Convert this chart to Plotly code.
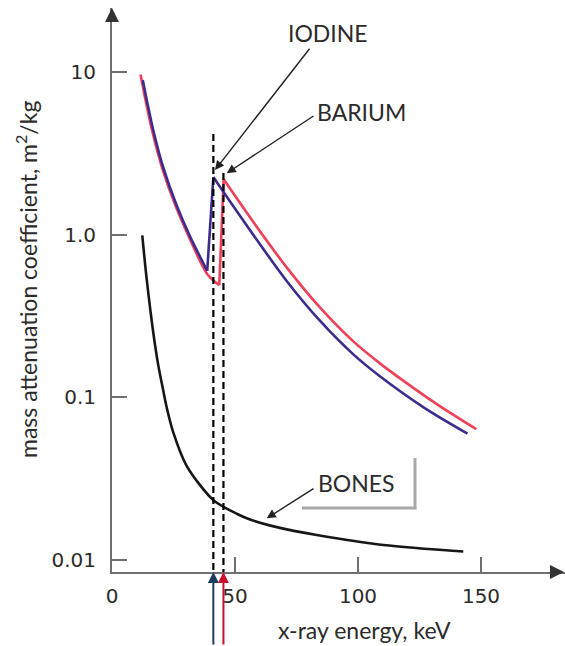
import plotly.graph_objects as go

# ---------------- data ----------------
iodine_kev = [12.5, 14.1, 16.8, 20.9, 26.3, 31.7, 38.7, 41.2, 45.2, 57.4, 71.0, 84.6, 98.1, 108.9, 126.8, 144.5]
iodine_mu  = [8.91, 6.76, 4.37, 2.57, 1.51, 0.977, 0.60, 2.26, 1.84, 1.0, 0.52, 0.295, 0.184, 0.135, 0.0867, 0.060]
iodine_edge_index = 6   # last point before the K-edge jump

barium_kev = [11.6, 13.6, 16.3, 20.4, 25.8, 31.2, 38.7, 43.6, 45.4, 57.4, 71.0, 84.6, 98.1, 108.9, 117.1, 132.5, 148.1]
barium_mu  = [9.64, 6.76, 4.37, 2.57, 1.51, 0.977, 0.574, 0.489, 2.19, 1.2, 0.63, 0.356, 0.221, 0.162, 0.131, 0.090, 0.0638]
barium_edge_index = 7

bones_kev = [12.3, 14.1, 16.8, 18.8, 20.9, 22.2, 24.9, 30.4, 41.2, 50.7, 56.1, 68.3, 83.2, 110.3, 142.8]
bones_mu  = [0.99, 0.533, 0.249, 0.158, 0.109, 0.0874, 0.061, 0.0379, 0.0234, 0.0193, 0.0178, 0.0158, 0.0143, 0.0124, 0.0113]

k_edges_kev = [41.2, 45.3]          # iodine, barium (dashed guides)
k_edge_tops = [4.15, 2.39]

x_tick_vals = [0, 50, 100, 150]
x_tick_text = ["0", "50", "100", "150"]
y_tick_vals = [0.01, 0.1, 1, 10]
y_tick_text = ["0.01", "0.1", "1.0", "10"]

# ---------------- style ----------------
W, H = 565, 646
ML, MR, MT, MB = 112, 0, 8, 74
PW, PH = W - ML - MR, H - MT - MB
X_RANGE = [0, PW / 2.46]
Y_RANGE = [-2.0725, 1.393]
Y_BOTTOM = 10 ** Y_RANGE[0]

AXIS_GREY = "#6f6f6f"
PURPLE = "#3d2c8d"
RED = "#ef4059"
TXT = "#2b2b2b"
LABEL_FONT = "Lato"


def px(x):
    return (x - ML) / PW


def py(y):
    return (H - MB - y) / PH


fig = go.Figure()


def add_edge_curve(kev, mu, k, color):
    pieces = [(kev[:k + 1], mu[:k + 1], "spline"),
              (kev[k:k + 2], mu[k:k + 2], "linear"),
              (kev[k + 1:], mu[k + 1:], "spline")]
    for xs, ys, shape in pieces:
        fig.add_trace(go.Scatter(x=xs, y=ys, mode="lines",
                                 line=dict(color=color, width=2.6, shape=shape, smoothing=0.9),
                                 showlegend=False, hoverinfo="skip"))


add_edge_curve(barium_kev, barium_mu, barium_edge_index, RED)
add_edge_curve(iodine_kev, iodine_mu, iodine_edge_index, PURPLE)

fig.add_trace(go.Scatter(x=bones_kev, y=bones_mu, mode="lines",
                         line=dict(color="#161616", width=2.6, shape="spline", smoothing=0.8),
                         showlegend=False, hoverinfo="skip"))

for xe, top in zip(k_edges_kev, k_edge_tops):
    fig.add_trace(go.Scatter(x=[xe, xe], y=[top, Y_BOTTOM], mode="lines",
                             line=dict(color="black", width=2.2, dash="7px,4px"),
                             showlegend=False, hoverinfo="skip", cliponaxis=False))

annotations = []
# axis arrowheads
annotations.append(dict(x=1, y=0, xref="paper", yref="paper", ax=-14, ay=0, text="",
                        showarrow=True, arrowhead=2, arrowsize=1.4, arrowwidth=2,
                        arrowcolor="#333333", standoff=0))
annotations.append(dict(x=0, y=1, xref="paper", yref="paper", ax=0, ay=14, text="",
                        showarrow=True, arrowhead=2, arrowsize=1.4, arrowwidth=2,
                        arrowcolor="#333333", standoff=0))
# coloured K-edge arrows below the axis
for xe, col in zip(k_edges_kev, ["#1f3a63", "#c8102e"]):
    annotations.append(dict(x=xe, y=0, xref="x", yref="paper", ax=0, ay=MB, text="",
                            showarrow=True, arrowhead=2, arrowsize=1.1, arrowwidth=2,
                            arrowcolor=col, standoff=0))
# label arrows
for tip, tail in [((215, 170), (310.7, 47.3)), ((226.7, 173.3), (315, 115)), ((266.7, 518.3), (315, 487.7))]:
    annotations.append(dict(x=px(tip[0]), y=py(tip[1]), xref="paper", yref="paper",
                            ax=tail[0] - tip[0], ay=tail[1] - tip[1], text="",
                            showarrow=True, arrowhead=2, arrowsize=1.3, arrowwidth=1.4,
                            arrowcolor="#222222", standoff=0))
# labels
for txt, (cx, cy) in [("IODINE", (328.3, 33.3)), ("BARIUM", (361.7, 111.7)), ("BONES", (356, 482.7))]:
    annotations.append(dict(x=px(cx), y=py(cy), xref="paper", yref="paper", text=txt,
                            showarrow=False, xanchor="center", yanchor="middle",
                            font=dict(family=LABEL_FONT, size=23, color=TXT)))
# axis titles
annotations.append(dict(x=px(26), y=py(280), xref="paper", yref="paper",
                        text="mass attenuation coefficient, m<sup>2</sup>/kg", textangle=-90,
                        showarrow=False, xanchor="center", yanchor="middle",
                        font=dict(family=LABEL_FONT, size=23, color=TXT)))
annotations.append(dict(x=px(364), y=py(630), xref="paper", yref="paper",
                        text="x-ray energy, keV", showarrow=False, xanchor="center", yanchor="middle",
                        font=dict(family=LABEL_FONT, size=23, color=TXT)))

shapes = [
    dict(type="line", xref="paper", yref="paper", x0=px(415), x1=px(415), y0=py(458), y1=py(508),
         line=dict(color="#a8a8a8", width=3)),
    dict(type="line", xref="paper", yref="paper", x0=px(302), x1=px(416.5), y0=py(508), y1=py(508),
         line=dict(color="#a8a8a8", width=3)),
]

fig.update_layout(
    width=W, height=H, margin=dict(l=ML, r=MR, t=MT, b=MB),
    paper_bgcolor="white", plot_bgcolor="white", showlegend=False,
    annotations=annotations, shapes=shapes,
    xaxis=dict(range=X_RANGE, showgrid=False, zeroline=False, showline=True,
               linecolor=AXIS_GREY, linewidth=2, tickvals=x_tick_vals, ticktext=x_tick_text,
               ticks="inside", ticklen=15, tickwidth=2, tickcolor=AXIS_GREY,
               tickfont=dict(family="DejaVu Sans", size=20, color=TXT), ticklabelstandoff=5),
    yaxis=dict(type="log", range=Y_RANGE, showgrid=False, zeroline=False, showline=True,
               linecolor=AXIS_GREY, linewidth=2, tickvals=y_tick_vals, ticktext=y_tick_text,
               ticks="inside", ticklen=15, tickwidth=2, tickcolor=AXIS_GREY,
               tickfont=dict(family="DejaVu Sans", size=20, color=TXT), ticklabelstandoff=10),
)

fig.write_html("out.html")
